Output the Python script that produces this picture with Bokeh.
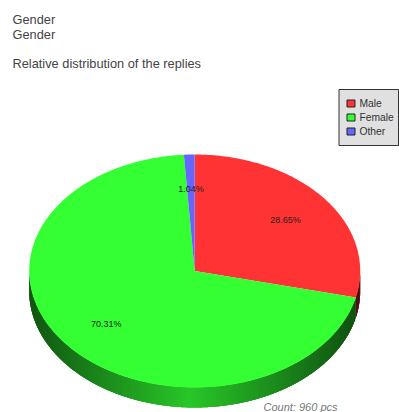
import numpy as np
from bokeh.core.properties import value
from bokeh.embed import file_html
from bokeh.models import Range1d
from bokeh.plotting import figure
from bokeh.resources import INLINE

# Survey replies
categories = ["Male", "Female", "Other"]
shares = [28.65, 70.31, 1.04]
share_labels = ["28.65%", "70.31%", "1.04%"]
count_label = "Count: 960 pcs"
title_lines = ["Gender", "Gender", "Relative distribution of the replies"]

# Styling and geometry of the page, in pixels
FACE = {"Male": (255, 51, 51), "Female": (51, 255, 51), "Other": (102, 102, 255)}
CX, CY, RX, RY, DEPTH = 194.2, 270.5, 165.5, 116.5, 20
FONT = value("Liberation Sans")

p = figure(width=399, height=412, x_range=Range1d(0, 399), y_range=Range1d(412, 0),
           output_backend="svg", toolbar_location=None, min_border=0,
           outline_line_color=None)
p.axis.visible = False
p.grid.visible = False


def rim(theta):
    return CX + RX * np.sin(theta), CY - RY * np.cos(theta)


def hex_color(rgb):
    return "#%02x%02x%02x" % tuple(int(round(c)) for c in rgb)


def shade(rgb, theta):
    # Rim light: brightest at the front, falling off towards both ends
    k = 0.78 - 0.46 * min(abs(np.sin(theta) + 0.03), 1.0)
    return tuple(c * k for c in rgb)


fractions = np.array(shares) / sum(shares)
edges = np.concatenate([[0.0], np.cumsum(fractions)]) * 2 * np.pi

# Extruded rim of the lower half: overlapping arcs, painted in order so no seams show
for name, a0, a1 in zip(categories, edges[:-1], edges[1:]):
    lo, hi = max(a0, np.pi / 2), min(a1, 3 * np.pi / 2)
    if hi <= lo:
        continue
    steps = np.linspace(lo, hi, max(int((hi - lo) * 70), 2))
    for i in range(len(steps) - 1):
        arc = np.linspace(steps[i], steps[min(i + 3, len(steps) - 1)], 6)
        x, y = rim(arc)
        c = hex_color(shade(FACE[name], (steps[i] + steps[i + 1]) / 2))
        p.patch(np.r_[x, x[::-1]], np.r_[y, y[::-1] + DEPTH], fill_color=c, line_color=None)

# Top face of the pie
for name, a0, a1 in zip(categories, edges[:-1], edges[1:]):
    t = np.linspace(a0, a1, max(int((a1 - a0) * 60), 4))
    x, y = rim(t)
    p.patch(np.r_[CX, x], np.r_[CY, y], fill_color=hex_color(FACE[name]),
            line_color=None)

# Percentage labels on each slice
mids = (edges[:-1] + edges[1:]) / 2
LABEL_R = 0.70
for lab, mid in zip(share_labels, mids):
    p.text([CX + RX * LABEL_R * np.sin(mid)], [CY - RY * LABEL_R * np.cos(mid)], text=[lab],
           text_font=FONT, text_font_size="9px", text_color="#222222",
           text_align="center", text_baseline="middle")

# Heading block
for line, y in zip(title_lines, [19, 34, 63]):
    p.text([12], [y], text=[line], text_font=FONT, text_font_size="12.8px",
           text_color="#444444", text_align="left", text_baseline="middle")

# Legend box
p.quad(left=[338.5], right=[398], top=[89], bottom=[145], fill_color="#e0e0e0",
       line_color="#333333", line_width=1, line_join="miter")
for i, name in enumerate(categories):
    y = 103 + i * 14
    p.quad(left=[346.5], right=[354.5], top=[y - 3.5], bottom=[y + 3.5],
           fill_color=hex_color(FACE[name]), line_color="#222222", line_width=1,
           line_join="miter")
    p.text([359], [y], text=[name], text_font=FONT, text_font_size="10.3px",
           text_color="#333333", text_align="left", text_baseline="middle")

p.text([337], [406.5], text=[count_label], text_font=FONT, text_font_size="11px",
       text_font_style="italic", text_color="#777777", text_align="right",
       text_baseline="middle")

open("out.html", "w").write(file_html(p, INLINE))
